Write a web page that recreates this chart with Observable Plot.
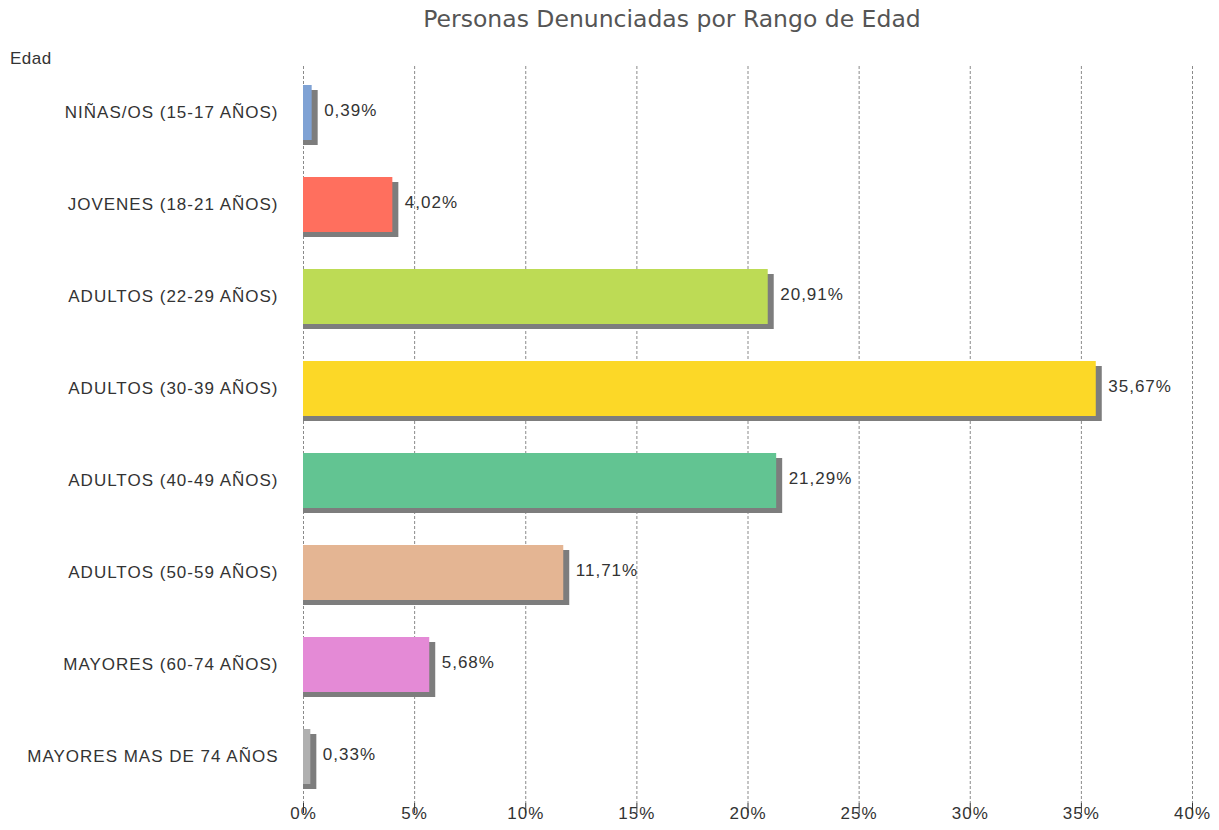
<!DOCTYPE html>
<html><head><meta charset="utf-8">
<script src="https://cdn.jsdelivr.net/npm/d3@7"></script>
<script src="https://cdn.jsdelivr.net/npm/@observablehq/plot@0.6"></script>
<style>
body{margin:0;background:#fff;}
#wrap{position:relative;width:1219px;height:830px;overflow:hidden;}
#title{position:absolute;left:0;width:1344px;top:5px;text-align:center;font-family:"DejaVu Sans",Verdana,sans-serif;font-size:23.5px;color:#555;z-index:2;}
#ylab{position:absolute;left:10px;top:49px;font-family:"Liberation Sans",Arial,sans-serif;font-size:17px;letter-spacing:0.5px;color:#333;z-index:2;}
#chart{position:absolute;left:0;top:0;z-index:1;}
#chart text{letter-spacing:1px;}
</style></head>
<body><div id="wrap"><div id="chart"></div><div id="title">Personas Denunciadas por Rango de Edad</div><div id="ylab">Edad</div></div>
<script>
const categories = ["NIÑAS/OS (15-17 AÑOS)","JOVENES (18-21 AÑOS)","ADULTOS (22-29 AÑOS)","ADULTOS (30-39 AÑOS)","ADULTOS (40-49 AÑOS)","ADULTOS (50-59 AÑOS)","MAYORES (60-74 AÑOS)","MAYORES MAS DE 74 AÑOS"];
const values = [0.39, 4.02, 20.91, 35.67, 21.29, 11.71, 5.68, 0.33];
const labels = ["0,39%","4,02%","20,91%","35,67%","21,29%","11,71%","5,68%","0,33%"];
const colors = ["#7fa2d4","#ff6f5e","#bddb55","#fcd827","#62c492","#e4b593","#e48ad6","#b0b0b0"];
const xTicks = [0,5,10,15,20,25,30,35,40];
const data = categories.map((c,i)=>({cat:c, v:values[i], label:labels[i], color:colors[i]}));
const chart = Plot.plot({
  width:1219, height:830,
  marginTop:66, marginBottom:27, marginLeft:303, marginRight:27,
  style:{fontFamily:"'Liberation Sans',Arial,sans-serif", fontSize:"17px", color:"#333", background:"transparent"},
  x:{domain:[0,40], ticks:xTicks, tickFormat:d=>d+"%"},
  y:{domain:categories, paddingInner:0.4, paddingOuter:0.2, label:null},
  marks:[
    Plot.gridX(xTicks,{stroke:"#8a8a8a", strokeOpacity:1, strokeDasharray:"3,2"}),
    Plot.axisX({ticks:xTicks, tickFormat:d=>d+"%", tickSize:10, tickPadding:-7, label:null, stroke:"#333", fontSize:17}),
    Plot.axisY({tickSize:0, tickPadding:25, label:null, fontSize:17}),
    Plot.barX(data,{y:"cat", x:"v", fill:"#7d7d7d", dx:6, dy:5, insetLeft:-6}),
    Plot.barX(data,{y:"cat", x:"v", fill:"color"}),
    Plot.text(data,{y:"cat", x:"v", text:"label", dx:12, dy:-2, textAnchor:"start", fill:"#333", fontSize:17})
  ]
});
document.getElementById("chart").appendChild(chart);
</script></body></html>
